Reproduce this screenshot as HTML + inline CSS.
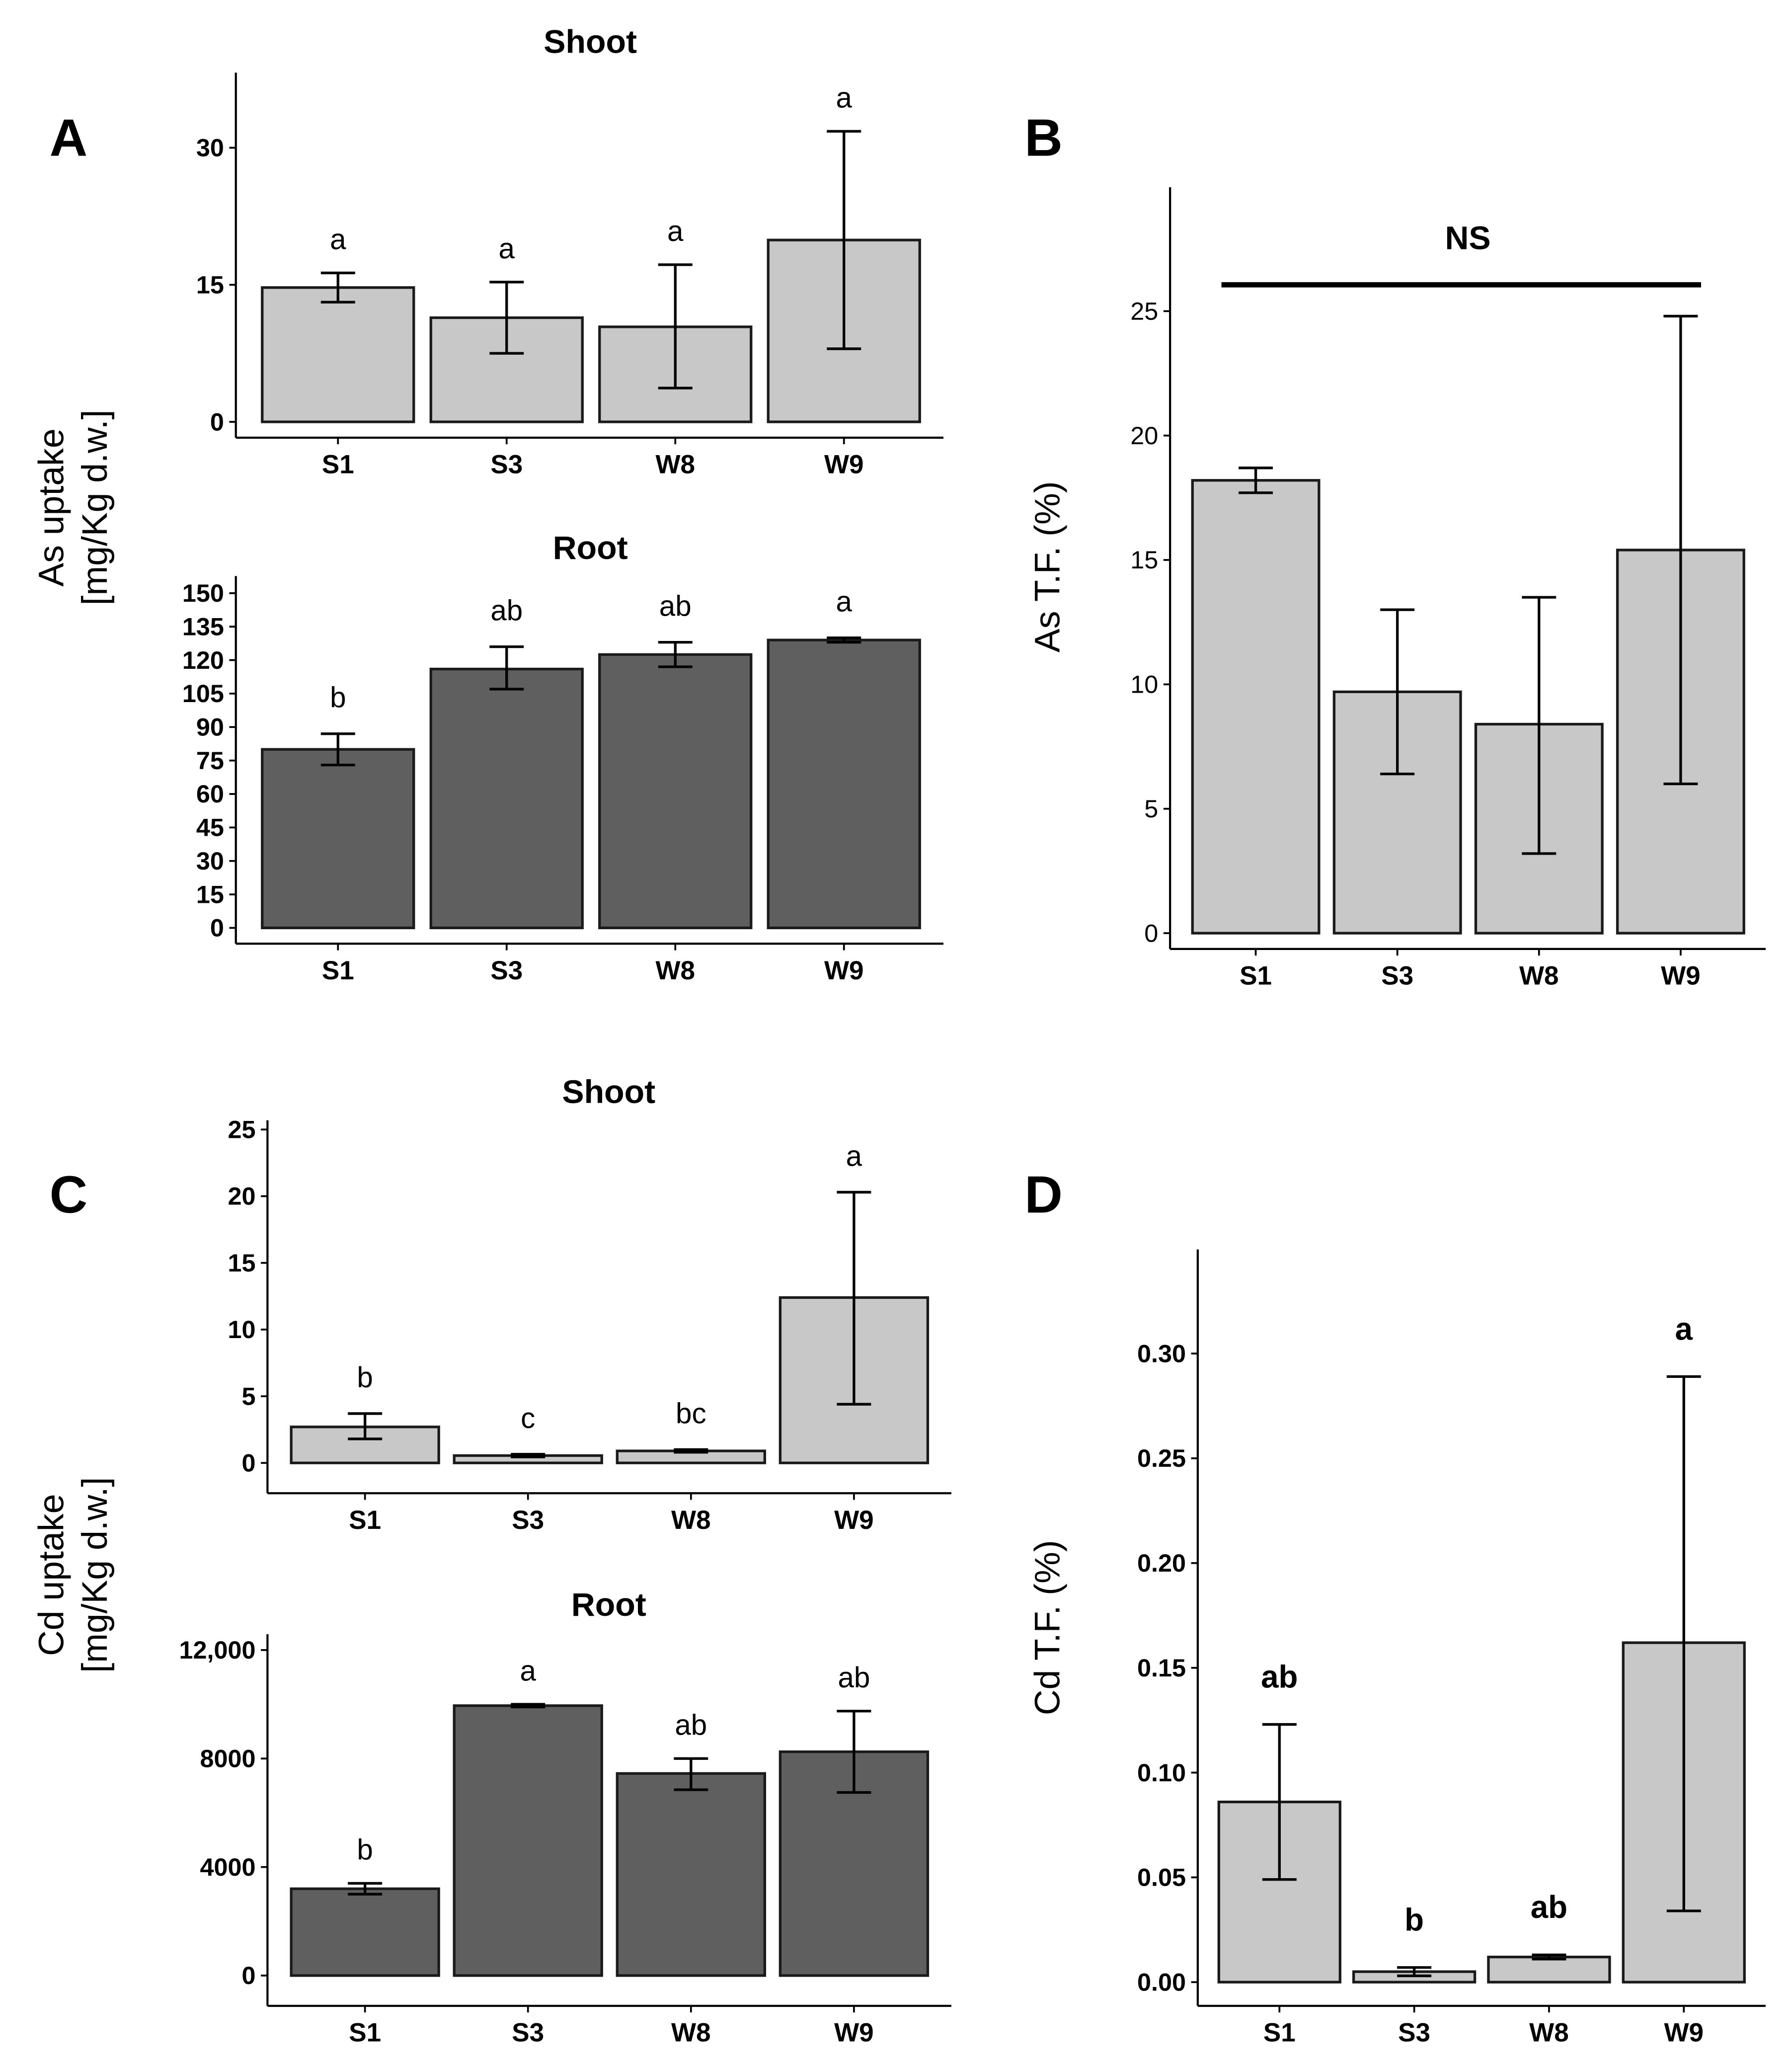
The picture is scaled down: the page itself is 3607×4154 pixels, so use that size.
<!DOCTYPE html>
<html><head><meta charset="utf-8">
<style>
html,body{margin:0;padding:0;background:#fff;}
svg{display:block;}
text{font-family:"Liberation Sans",Arial,sans-serif;fill:#000;}
</style></head>
<body>
<svg id="chart" width="3607" height="4154" viewBox="0 0 1360 1566" xmlns="http://www.w3.org/2000/svg"></svg>
<script>
const categories = ["S1","S3","W8","W9"];
// Panel A shoot
const asShootVals = [14.7, 11.4, 10.4, 19.9];
const asShootLo = [13.1, 7.5, 3.7, 8.0];
const asShootHi = [16.3, 15.3, 17.2, 31.8];
const asShootLetters = ["a","a","a","a"];
const asShootTicks = [0, 15, 30];
// Panel A root
const asRootVals = [80, 116, 122.5, 129];
const asRootLo = [73, 107, 117, 128];
const asRootHi = [87, 126, 128, 130];
const asRootLetters = ["b","ab","ab","a"];
const asRootTicks = [0,15,30,45,60,75,90,105,120,135,150];
// Panel B
const asTFVals = [18.2, 9.7, 8.4, 15.4];
const asTFLo = [17.7, 6.4, 3.2, 6.0];
const asTFHi = [18.7, 13.0, 13.5, 24.8];
const asTFTicks = [0,5,10,15,20,25];
// Panel C shoot
const cdShootVals = [2.7, 0.55, 0.9, 12.4];
const cdShootLo = [1.8, 0.45, 0.8, 4.4];
const cdShootHi = [3.7, 0.65, 1.0, 20.3];
const cdShootLetters = ["b","c","bc","a"];
const cdShootTicks = [0,5,10,15,20,25];
// Panel C root
const cdRootVals = [3200, 9950, 7450, 8250];
const cdRootLo = [3000, 9900, 6850, 6750];
const cdRootHi = [3400, 10000, 8000, 9750];
const cdRootLetters = ["b","a","ab","ab"];
const cdRootTicks = [0,4000,8000,12000];
const cdRootTickLabels = ["0","4000","8000","12,000"];
// Panel D
const cdTFVals = [0.086, 0.005, 0.012, 0.162];
const cdTFLo = [0.049, 0.003, 0.011, 0.034];
const cdTFHi = [0.123, 0.007, 0.013, 0.289];
const cdTFLetters = ["ab","b","ab","a"];
const cdTFTicks = [0,0.05,0.10,0.15,0.20,0.25,0.30];
const cdTFTickLabels = ["0.00","0.05","0.10","0.15","0.20","0.25","0.30"];

const svg = document.getElementById('chart');
const NS = "http://www.w3.org/2000/svg";
function mk(tag, attrs, parent){ const e=document.createElementNS(NS,tag); for(const k in attrs) e.setAttribute(k,attrs[k]); (parent||svg).appendChild(e); return e; }
function txt(s, attrs, parent){ const e=mk('text',attrs,parent); e.textContent=s; return e; }

function panel(cfg){
  const g = mk('g',{});
  
  
  const y = v => cfg.y0 + (v - 0) * (cfg.yTop - cfg.y0) / cfg.vTop;
  // axes
  const ya = mk('line',{x1:cfg.ax,y1:cfg.axTop,x2:cfg.ax,y2:cfg.axBot,stroke:'#000','stroke-width':1.6},g);
  
  
  const xa = mk('line',{x1:cfg.ax,y1:cfg.axBot,x2:cfg.axRight,y2:cfg.axBot,stroke:'#000','stroke-width':1.6},g);
  
  
  cfg.ticks.forEach((t,i)=>{
    const yy=y(t);
    mk('line',{x1:cfg.ax-5,y1:yy,x2:cfg.ax,y2:yy,stroke:'#000','stroke-width':1.4},g);
    const lab = cfg.tickLabels ? cfg.tickLabels[i] : String(t);
    const tt = txt(lab,{x:cfg.ax-9,y:yy+6.5,'text-anchor':'end','font-size':cfg.tickFs||19,'font-weight':cfg.tickBold===false?'normal':'bold'},g);
    
    
  });
  categories.forEach((c,i)=>{
    const x0 = cfg.bx0 + i*cfg.step, cx = x0 + cfg.bw/2;
    const top = y(cfg.vals[i]);
    const bar = mk('rect',{x:x0,y:top,width:cfg.bw,height:y(0)-top,fill:cfg.fill,stroke:'#1a1a1a','stroke-width':2},g);
    
    
    const lo=y(cfg.lo[i]), hi=y(cfg.hi[i]);
    const eb = mk('path',{d:`M${cx-13},${hi}H${cx+13}M${cx},${hi}V${lo}M${cx-13},${lo}H${cx+13}`,stroke:'#000','stroke-width':2,fill:'none'},g);
    
    
    mk('line',{x1:cx,y1:cfg.axBot,x2:cx,y2:cfg.axBot+5,stroke:'#000','stroke-width':1.4},g);
    const xl = txt(c,{x:cx,y:cfg.axBot+27,'text-anchor':'middle','font-size':20,'font-weight':'bold'},g);
    
    
    if(cfg.letters){
      const lt = txt(cfg.letters[i],{x:cx,y:hi-cfg.letterGap,'text-anchor':'middle','font-size':cfg.letterFs||22,'font-weight':cfg.letterBold?'bold':'normal'},g);
      
      
    }
  });
  if(cfg.title){
    const t = txt(cfg.title,{x:cfg.titleX,y:cfg.titleY,'text-anchor':'middle','font-size':25,'font-weight':'bold'},g);
    
    
  }
}

panel({name:'as-shoot',ax:179,axTop:55,axBot:332,axRight:716,y0:320,yTop:112,vTop:30,ticks:asShootTicks,
  bx0:199,bw:115,step:128,fill:'#c8c8c8',vals:asShootVals,lo:asShootLo,hi:asShootHi,letters:asShootLetters,letterGap:18,title:'Shoot',titleX:448,titleY:40});
panel({name:'as-root',ax:179,axTop:437,axBot:716,axRight:716,y0:704,yTop:450,vTop:150,ticks:asRootTicks,
  bx0:199,bw:115,step:128,fill:'#5f5f5f',vals:asRootVals,lo:asRootLo,hi:asRootHi,letters:asRootLetters,letterGap:20,title:'Root',titleX:448,titleY:424});
panel({name:'as-tf',ax:888,axTop:142,axBot:720,axRight:1340,y0:708,yTop:236,vTop:25,ticks:asTFTicks,tickBold:false,
  bx0:905,bw:96,step:107.5,fill:'#c8c8c8',vals:asTFVals,lo:asTFLo,hi:asTFHi});
panel({name:'cd-shoot',ax:203,axTop:850,axBot:1133,axRight:722,y0:1110,yTop:857,vTop:25,ticks:cdShootTicks,
  bx0:221,bw:112,step:123.7,fill:'#c8c8c8',vals:cdShootVals,lo:cdShootLo,hi:cdShootHi,letters:cdShootLetters,letterGap:20,title:'Shoot',titleX:462,titleY:837});
panel({name:'cd-root',ax:203,axTop:1240,axBot:1522,axRight:722,y0:1499,yTop:1252,vTop:12000,ticks:cdRootTicks,tickLabels:cdRootTickLabels,
  bx0:221,bw:112,step:123.7,fill:'#5f5f5f',vals:cdRootVals,lo:cdRootLo,hi:cdRootHi,letters:cdRootLetters,letterGap:18,title:'Root',titleX:462,titleY:1226});
panel({name:'cd-tf',ax:909,axTop:948,axBot:1522,axRight:1340,y0:1504,yTop:1027,vTop:0.30,ticks:cdTFTicks,tickLabels:cdTFTickLabels,
  bx0:925,bw:92,step:102.3,fill:'#c8c8c8',vals:cdTFVals,lo:cdTFLo,hi:cdTFHi,letters:cdTFLetters,letterGap:28,letterBold:true,letterFs:24});

// NS line
const nsl = mk('line',{x1:927,y1:216,x2:1291,y2:216,stroke:'#000','stroke-width':4});


const nst = txt('NS',{x:1114,y:189,'text-anchor':'middle','font-size':25,'font-weight':'bold'});



// panel letters
[['A',52,118],['B',792,118],['C',52,920],['D',792,920]].forEach(p=>{
  const t = txt(p[0],{x:p[1],y:p[2],'text-anchor':'middle','font-size':40,'font-weight':'bold'});
  
  
});

// y titles
function ytitle(lines, x, y, name){
  const t = mk('text',{transform:`translate(${x},${y}) rotate(-90)`,'text-anchor':'middle','font-size':27});
  
  
  lines.forEach((l,i)=>{ const ts=mk('tspan',{x:0,dy:i===0?0:33},t); ts.textContent=l; });
}
ytitle(['As uptake','[mg/Kg d.w.]'],48,385,'as-uptake-y-title');
ytitle(['Cd uptake','[mg/Kg d.w.]'],48,1195,'cd-uptake-y-title');
ytitle(['As T.F. (%)'],804,430,'as-tf-y-title');
ytitle(['Cd T.F. (%)'],804,1235,'cd-tf-y-title');
</script>
</body></html>
